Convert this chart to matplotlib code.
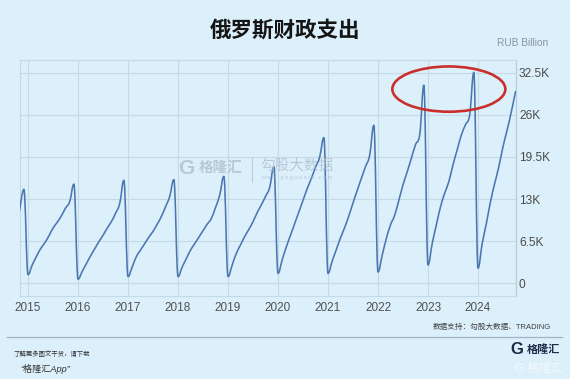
import numpy as np
import pandas as pd
import matplotlib
matplotlib.use("Agg")
import matplotlib.pyplot as plt
from matplotlib.path import Path
from matplotlib.patches import PathPatch, Ellipse

plt.rcParams['font.family'] = ['Liberation Sans', 'Noto Sans CJK SC', 'DejaVu Sans']

# Cumulative federal budget expenditure, billion RUB (year-to-date, monthly)
spend_2014 = [11300, 14500]                                   # Nov, Dec
spend_2015 = [1300, 2800, 4100, 5300, 6200, 7300, 8500, 9400, 10400, 11600, 12600, 15300]
spend_2016 = [600, 1800, 3000, 4200, 5300, 6400, 7400, 8500, 9500, 10800, 12300, 15900]
spend_2017 = [1000, 2500, 4100, 5100, 6100, 7100, 8000, 9100, 10300, 11800, 13400, 16000]
spend_2018 = [1000, 2500, 3800, 5100, 6100, 7100, 8100, 9100, 10000, 11700, 13600, 16500]
spend_2019 = [1000, 2800, 4600, 5900, 7200, 8300, 9500, 10900, 12100, 13400, 14800, 18000]
spend_2020 = [1500, 3600, 5600, 7400, 9200, 11000, 12800, 14600, 16200, 17900, 19500, 22500]
spend_2021 = [1500, 3400, 5200, 7000, 8600, 10400, 12400, 14300, 16200, 18000, 19800, 24400]
spend_2022 = [1700, 4300, 6900, 9000, 10500, 12800, 15200, 17200, 19300, 21400, 22900, 30600]
spend_2023 = [2800, 6100, 9000, 11800, 13900, 15700, 18300, 20600, 22900, 24500, 26000, 32600]
spend_2024 = [2300, 6100, 9200, 12600, 15400, 18000, 21100, 23700, 26500, 29600]  # Jan-Oct

months = pd.period_range('2014-11', '2024-10', freq='M')
values = (spend_2014 + spend_2015 + spend_2016 + spend_2017 + spend_2018 + spend_2019
          + spend_2020 + spend_2021 + spend_2022 + spend_2023 + spend_2024)

year_ticks = list(range(2015, 2025))
y_ticks = [0, 6500, 13000, 19500, 26000, 32500]
y_tick_labels = ['0', '6.5K', '13K', '19.5K', '26K', '32.5K']

title = '俄罗斯财政支出'
unit_label = 'RUB Billion'
source_note = '数据支持：勾股大数据、TRADING'

BG = '#dcf0fb'
GRID = '#c6dae6'
LINE = '#4a76b2'


def spline_path(xs, ys, smoothing=1.5):
    """Smooth cubic Bezier path through the points (no overshoot at extrema)."""
    n = len(xs)
    left = [None] * n
    right = [None] * n
    d = smoothing + 1
    for i in range(n):
        x1, y1 = xs[i], ys[i]
        if i == 0 or i == n - 1:
            left[i] = right[i] = (x1, y1)
            continue
        x0, y0 = xs[i - 1], ys[i - 1]
        x2, y2 = xs[i + 1], ys[i + 1]
        lcx, lcy = (smoothing * x1 + x0) / d, (smoothing * y1 + y0) / d
        rcx, rcy = (smoothing * x1 + x2) / d, (smoothing * y1 + y2) / d
        if rcx != lcx:
            corr = ((rcy - lcy) * (rcx - x1)) / (rcx - lcx) + y1 - rcy
            lcy += corr
            rcy += corr
        if lcy > y0 and lcy > y1:
            lcy = max(y0, y1); rcy = 2 * y1 - lcy
        elif lcy < y0 and lcy < y1:
            lcy = min(y0, y1); rcy = 2 * y1 - lcy
        if rcy > y2 and rcy > y1:
            rcy = max(y1, y2); lcy = 2 * y1 - rcy
        elif rcy < y2 and rcy < y1:
            rcy = min(y1, y2); lcy = 2 * y1 - rcy
        left[i] = (lcx, lcy)
        right[i] = (rcx, rcy)
    verts = [(xs[0], ys[0])]
    codes = [Path.MOVETO]
    for i in range(1, n):
        verts += [right[i - 1], left[i], (xs[i], ys[i])]
        codes += [Path.CURVE4] * 3
    return Path(verts, codes)


x = np.array([p.year + (p.month - 1) / 12 for p in months])
y = np.array(values, dtype=float)

fig = plt.figure(figsize=(5.7, 3.79), dpi=100, facecolor=BG)
ax = fig.add_axes([0.0346, 0.219, 0.8698, 0.6227], facecolor=BG)

ax.set_xlim(x[0], x[-1])
ax.set_ylim(-2000, 34500)

ax.add_patch(PathPatch(spline_path(x, y), fill=False, edgecolor=LINE, lw=1.15,
                       zorder=4, capstyle='round', joinstyle='round'))

# highlight the two latest December peaks
dec_peaks = x[(np.array([p.month for p in months]) == 12) &
              (np.array([p.year for p in months]) >= 2022)]
ax.add_patch(Ellipse((dec_peaks.mean(), 30000), 2.26, 7000, fill=False,
                     edgecolor='#c9302c', lw=1.9, zorder=5, clip_on=False))

ax.set_xticks(year_ticks)
ax.set_xticklabels([str(v) for v in year_ticks])
ax.yaxis.tick_right()
ax.set_yticks(y_ticks)
ax.set_yticklabels(y_tick_labels)
ax.tick_params(axis='x', length=0, pad=4, labelsize=8.5, labelcolor='#505050')
ax.tick_params(axis='y', length=0, pad=2.5, labelsize=8.6, labelcolor='#4a4a4a')
ax.grid(True, color=GRID, lw=0.8, zorder=0)
ax.set_axisbelow(True)
for side in ['left', 'top', 'bottom']:
    ax.spines[side].set_color(GRID)
    ax.spines[side].set_linewidth(0.8)
ax.spines['right'].set_color('#b9cbd6')
ax.spines['right'].set_linewidth(0.9)

# header
fig.text(0.5, 0.918, title, ha='center', va='center', fontsize=15.5,
         fontweight='bold', color='#151515')
fig.text(0.962, 0.887, unit_label, ha='right', va='center', fontsize=7.3,
         color='#8a949c')

# centre watermark
wm = '#aebfcd'
fig.text(186 / 570, 1 - 168 / 379, 'G', ha='center', va='center', fontsize=15,
         fontweight='bold', color=wm, alpha=0.8, zorder=1)
fig.text(221 / 570, 1 - 168 / 379, '格隆汇', ha='center', va='center', fontsize=10.5,
         fontweight='bold', color=wm, alpha=0.8, zorder=1)
fig.add_artist(plt.Line2D([252 / 570, 252 / 570], [1 - 158 / 379, 1 - 182 / 379],
                          color=wm, lw=0.8, alpha=0.7))
fig.text(297 / 570, 1 - 166 / 379, '勾股大数据', ha='center', va='center', fontsize=10.5,
         color=wm, alpha=0.8, zorder=1)
fig.text(297 / 570, 1 - 177 / 379, 'w w w . g o g u d a t a . c o m', ha='center',
         va='center', fontsize=4, color=wm, alpha=0.8, zorder=1)

# footer
fig.text(551 / 570, 1 - 327 / 379, source_note, ha='right', va='center',
         fontsize=5.5, color='#404040')
fig.add_artist(plt.Line2D([7 / 570, 562 / 570], [1 - 337 / 379, 1 - 337 / 379],
                          color='#9fb5c3', lw=0.9))
fig.text(13 / 570, 1 - 354 / 379, '了解更多图文干货，请下载', ha='left', va='center',
         fontsize=4.6, color='#303030', style='italic')
fig.text(20 / 570, 1 - 369 / 379, '“格隆汇App”', ha='left', va='center',
         fontsize=6.6, color='#303030', style='italic')
fig.text(517 / 570, 1 - 350 / 379, 'G', ha='center', va='center', fontsize=12,
         fontweight='bold', color='#1e2b47')
fig.text(543 / 570, 1 - 350 / 379, '格隆汇', ha='center', va='center', fontsize=8,
         fontweight='bold', color='#1e2b47')
fig.text(539 / 570, 1 - 369 / 379, 'G 格隆汇', ha='center', va='center', fontsize=8.5,
         color='white', alpha=0.6)

fig.savefig('out.png', dpi=100, facecolor=BG)
